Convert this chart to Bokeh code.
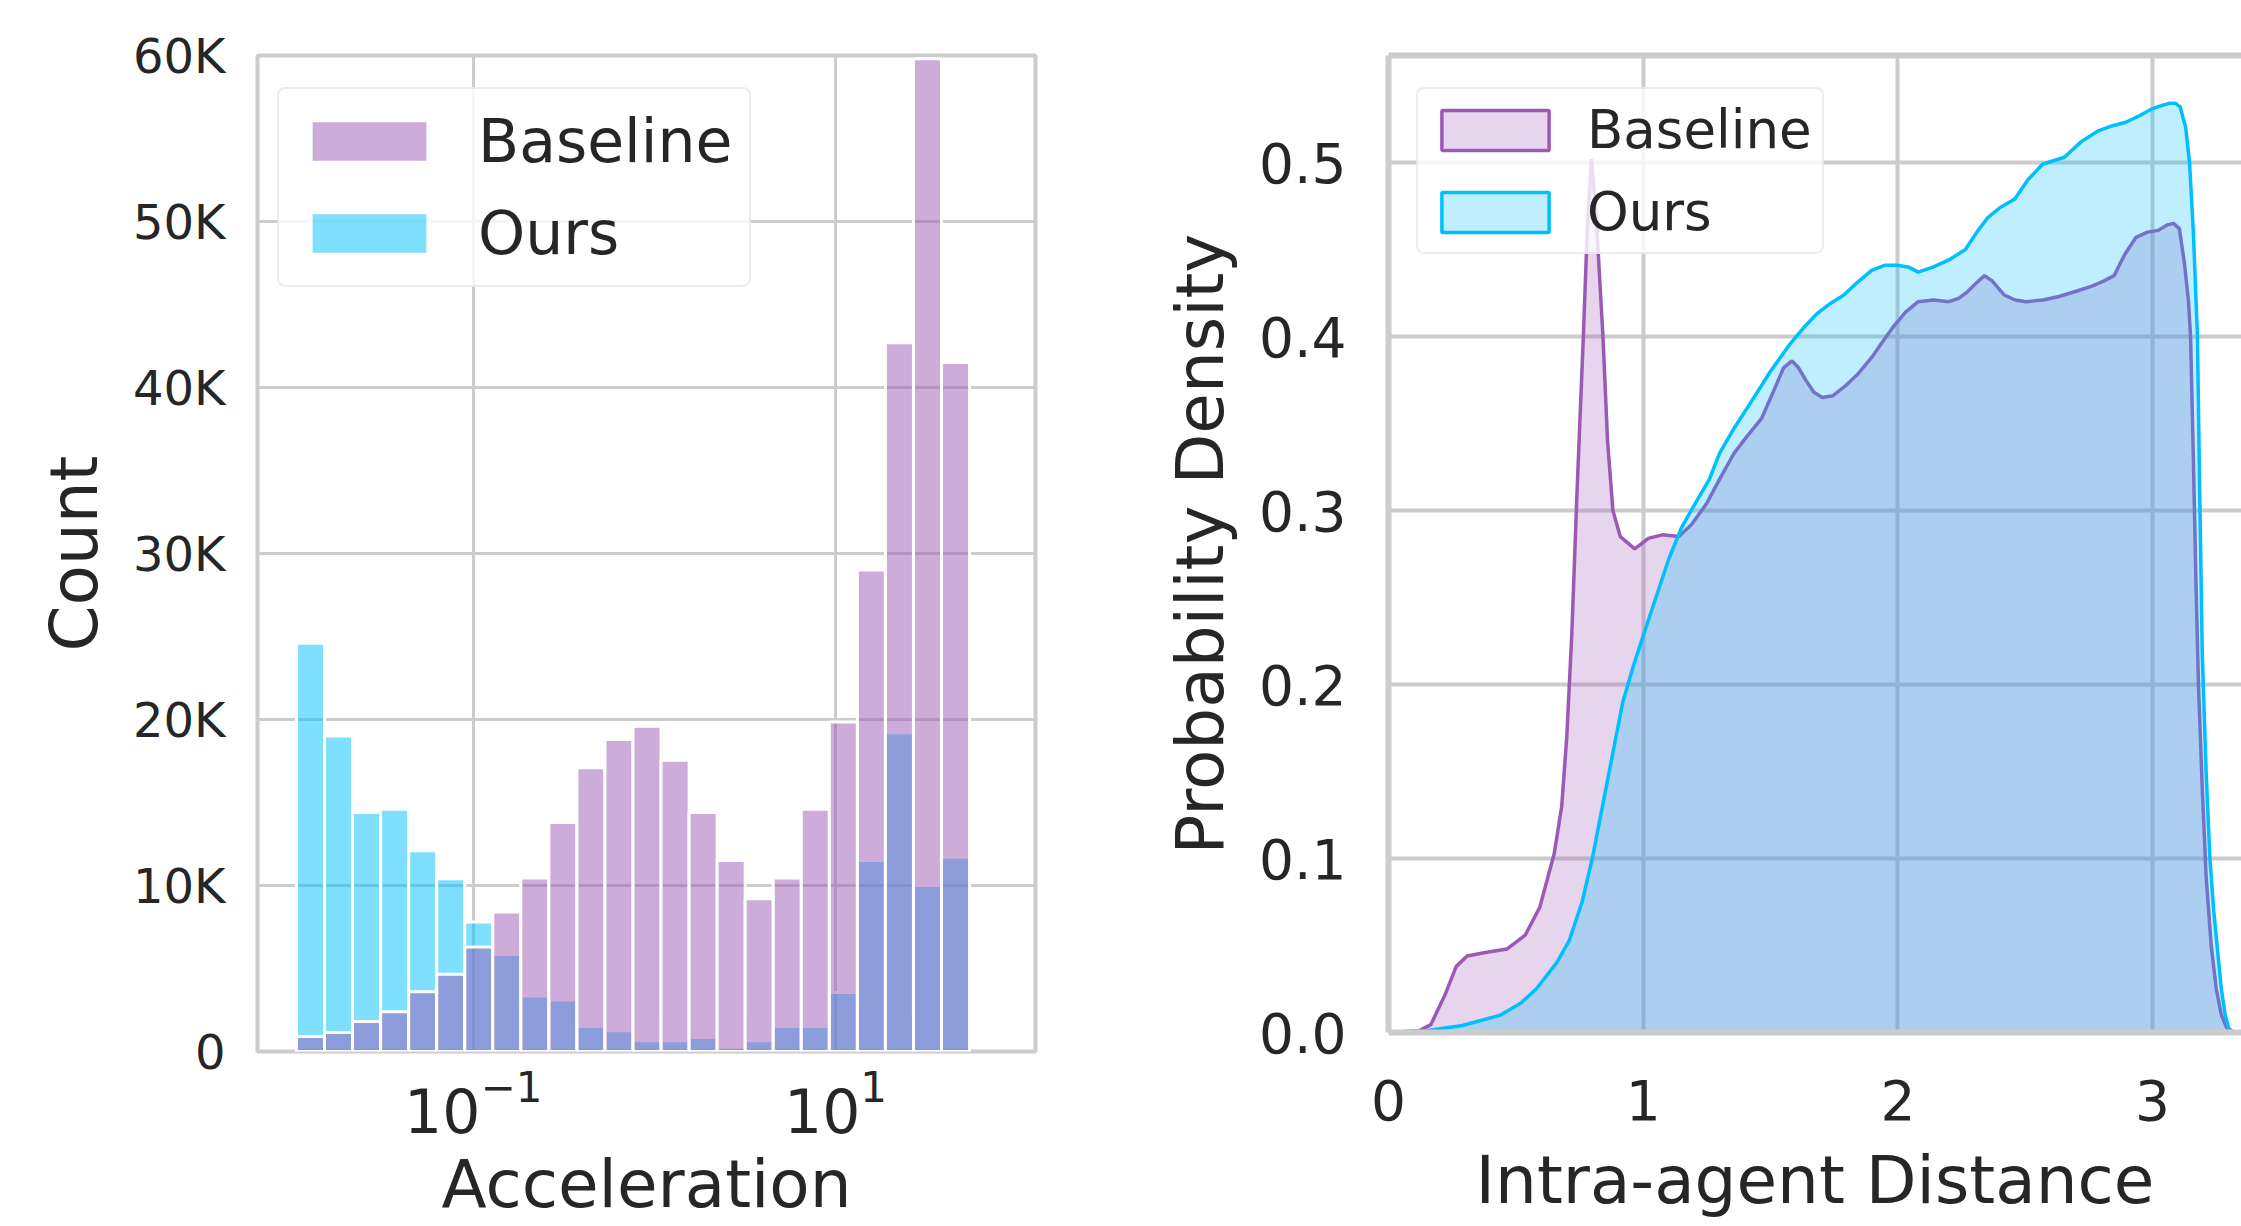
import numpy as np
from bokeh.plotting import figure
from bokeh.layouts import row
from bokeh.models import (Range1d, FixedTicker, LinearAxis, Legend, LegendItem,
                          PrintfTickFormatter)
from bokeh.embed import file_html
from bokeh.resources import INLINE

# ---------------- data: histogram of acceleration (log bins) ----------------
N_BINS = 24
LOG_BIN_START = -1.976
LOG_BIN_END = 1.740
ours_counts = [24600, 19000, 14400, 14600, 12100, 10400, 7800, 5850, 3350, 3100,
               1500, 1250, 650, 650, 850, 250, 650, 1500, 1500, 3550,
               11500, 19200, 10000, 11700]
baseline_counts = [900, 1150, 1800, 2400, 3600, 4650, 6300, 8400, 10450, 13800,
                   17100, 18800, 19600, 17550, 14400, 11500, 9200, 10450, 14600, 19850,
                   29000, 42700, 59800, 41500]
hist_xticks = [0.1, 10]
hist_yticks = [0, 10000, 20000, 30000, 40000, 50000, 60000]
hist_ylabels = ["0", "10K", "20K", "30K", "40K", "50K", "60K"]

# ---------------- data: KDE of intra-agent distance ----------------
base_x = [0.0, 0.12, 0.166, 0.223, 0.266, 0.309, 0.38, 0.466, 0.537, 0.594, 0.651, 0.68,
          0.70, 0.72, 0.74, 0.765, 0.78, 0.797, 0.815, 0.842, 0.86, 0.881, 0.91, 0.967,
          1.02, 1.075, 1.14, 1.19, 1.249, 1.30, 1.357, 1.41, 1.465, 1.51, 1.551, 1.584,
          1.61, 1.638, 1.67, 1.703, 1.745, 1.789, 1.84, 1.897, 1.94, 1.984, 2.03, 2.08,
          2.14, 2.2, 2.24, 2.275, 2.31, 2.34, 2.37, 2.416, 2.46, 2.503, 2.57, 2.632,
          2.70, 2.762, 2.81, 2.849, 2.89, 2.935, 2.98, 3.022, 3.055, 3.082, 3.105, 3.125,
          3.141, 3.149, 3.16, 3.17, 3.18, 3.195, 3.21, 3.23, 3.25, 3.27, 3.29, 3.318]
base_y = [0.0, 0.001, 0.0045, 0.022, 0.038, 0.044, 0.046, 0.048, 0.056, 0.072, 0.103, 0.13,
          0.17, 0.23, 0.31, 0.40, 0.46, 0.502, 0.47, 0.40, 0.34, 0.30, 0.285, 0.278,
          0.284, 0.286, 0.285, 0.292, 0.304, 0.318, 0.333, 0.343, 0.353, 0.368, 0.382, 0.386,
          0.382, 0.375, 0.368, 0.365, 0.366, 0.371, 0.378, 0.388, 0.397, 0.406, 0.414, 0.420,
          0.421, 0.420, 0.422, 0.426, 0.431, 0.435, 0.432, 0.424, 0.421, 0.420, 0.421, 0.423,
          0.426, 0.429, 0.432, 0.435, 0.447, 0.457, 0.460, 0.461, 0.464, 0.465, 0.462, 0.442,
          0.42, 0.40, 0.33, 0.26, 0.20, 0.14, 0.09, 0.05, 0.025, 0.010, 0.003, 0.0]
ours_x = [0.0, 0.15, 0.29, 0.44, 0.52, 0.58, 0.66, 0.71, 0.76, 0.80, 0.84, 0.88, 0.92,
          0.96, 1.0, 1.05, 1.10, 1.15, 1.20, 1.26, 1.30, 1.36, 1.422, 1.50, 1.573, 1.63,
          1.681, 1.735, 1.789, 1.84, 1.897, 1.95, 1.995, 2.04, 2.08, 2.14, 2.2, 2.265,
          2.31, 2.351, 2.40, 2.459, 2.51, 2.568, 2.61, 2.654, 2.72, 2.784, 2.84, 2.892,
          2.95, 3.0, 3.04, 3.065, 3.09, 3.108, 3.13, 3.145, 3.16, 3.176, 3.185, 3.195,
          3.21, 3.225, 3.24, 3.255, 3.27, 3.285, 3.30, 3.318]
ours_y = [0.0, 0.001, 0.004, 0.010, 0.017, 0.025, 0.040, 0.053, 0.075, 0.100, 0.130, 0.160,
          0.190, 0.210, 0.228, 0.250, 0.272, 0.290, 0.303, 0.318, 0.333, 0.348, 0.362, 0.380,
          0.395, 0.405, 0.413, 0.419, 0.424, 0.431, 0.438, 0.441, 0.441, 0.440, 0.437, 0.440,
          0.444, 0.450, 0.460, 0.468, 0.474, 0.479, 0.490, 0.499, 0.501, 0.503, 0.512, 0.518,
          0.521, 0.523, 0.527, 0.531, 0.533, 0.534, 0.534, 0.532, 0.520, 0.500, 0.460, 0.400,
          0.310, 0.218, 0.150, 0.100, 0.070, 0.047, 0.025, 0.010, 0.002, 0.0]
kde_xticks = [0, 1, 2, 3]
kde_yticks = [0.0, 0.1, 0.2, 0.3, 0.4, 0.5]

# ---------------- styles ----------------
TEXT = "#262626"
GRID = "#cccccc"
PURPLE = "#9b59b6"
BLUE = "#00bfff"
FONT = "DejaVu Sans"


def style_axes(p, tick_size_x, tick_size_y):
    for ax in p.axis:
        ax.major_tick_line_color = None
        ax.minor_tick_line_color = None
        ax.major_tick_out = 0
        ax.major_tick_in = 0
        ax.minor_tick_out = 0
        ax.minor_tick_in = 0
        ax.major_label_text_color = TEXT
        ax.major_label_text_font = FONT
        ax.axis_label_text_color = TEXT
        ax.axis_label_text_font = FONT
        ax.axis_label_text_font_style = "normal"
        ax.axis_label_text_font_size = "66px"
    p.xaxis.major_label_text_font_size = tick_size_x
    p.yaxis.major_label_text_font_size = tick_size_y


def style_legend(leg):
    leg.label_text_color = TEXT
    leg.label_text_font = FONT
    leg.border_line_color = "#d9d9d9"
    leg.border_line_width = 2
    leg.background_fill_color = "white"
    leg.background_fill_alpha = 0.8
    leg.margin = 0
    if "border_radius" in Legend.properties():
        leg.border_radius = 8


def no_frame_align(p):
    if "frame_align" in p.properties():
        p.frame_align = False


# ---------------- left: histogram ----------------
edges = 10 ** np.linspace(LOG_BIN_START, LOG_BIN_END, N_BINS + 1)
p1 = figure(width=1140, height=1226, x_axis_type="log",
            x_range=Range1d(10 ** -2.191, 10 ** 2.104), y_range=Range1d(0, 60000),
            output_backend="svg", toolbar_location=None,
            min_border_left=257, min_border_right=105, min_border_top=55,
            min_border_bottom=175)
no_frame_align(p1)
p1.background_fill_color = "white"
p1.border_fill_color = "white"
p1.outline_line_color = GRID
p1.outline_line_width = 4
p1.grid.grid_line_color = GRID
p1.grid.grid_line_width = 3

r_ours = p1.quad(left=edges[:-1], right=edges[1:], bottom=0, top=ours_counts,
                 fill_color=BLUE, fill_alpha=0.5, line_color="white", line_width=3)
r_base = p1.quad(left=edges[:-1], right=edges[1:], bottom=0, top=baseline_counts,
                 fill_color=PURPLE, fill_alpha=0.5, line_color="white", line_width=3)

p1.xaxis.ticker = FixedTicker(ticks=hist_xticks)
p1.yaxis.ticker = FixedTicker(ticks=hist_yticks)
p1.yaxis.major_label_overrides = {t: l for t, l in zip(hist_yticks, hist_ylabels)}
p1.xaxis.axis_label = "Acceleration"
p1.yaxis.axis_label = "Count"
style_axes(p1, "60px", "48px")
p1.axis.axis_line_color = None
p1.below[0].major_label_standoff = 16
p1.left[0].major_label_standoff = 32
p1.below[0].axis_label_standoff = 10
p1.left[0].axis_label_standoff = 17

leg1 = Legend(items=[LegendItem(label="Baseline", renderers=[r_base]),
                     LegendItem(label="Ours", renderers=[r_ours])],
              location=(20, 764))
leg1.label_text_font_size = "60px"
leg1.glyph_width = 146
leg1.glyph_height = 52
leg1.label_standoff = 36
leg1.padding = 17
leg1.spacing = 22
style_legend(leg1)
p1.add_layout(leg1)

# ---------------- right: KDE ----------------
p2 = figure(width=1101, height=1226, x_range=Range1d(0, 3.349), y_range=Range1d(0, 0.5615),
            output_backend="svg", toolbar_location=None,
            min_border_left=248, min_border_right=0, min_border_top=55,
            min_border_bottom=194)
no_frame_align(p2)
p2.background_fill_color = "white"
p2.border_fill_color = "white"
p2.outline_line_color = None
p2.grid.grid_line_color = GRID
p2.grid.grid_line_width = 4

r_b = p2.patch(x=base_x, y=base_y, fill_color=PURPLE, fill_alpha=0.25,
               line_color=PURPLE, line_width=3.5)
r_o = p2.patch(x=ours_x, y=ours_y, fill_color=BLUE, fill_alpha=0.25,
               line_color=BLUE, line_width=3.5)

bottom_axis = p2.below[0]
left_axis = p2.left[0]
bottom_axis.ticker = FixedTicker(ticks=kde_xticks)
left_axis.ticker = FixedTicker(ticks=kde_yticks)
left_axis.formatter = PrintfTickFormatter(format="%.1f")
bottom_axis.axis_label = "Intra-agent Distance"
left_axis.axis_label = "Probability Density"
top_axis = LinearAxis(ticker=FixedTicker(ticks=[]))
p2.add_layout(top_axis, "above")
style_axes(p2, "55px", "55px")
for ax in p2.axis:
    ax.axis_line_color = GRID
    ax.axis_line_width = 6
bottom_axis.major_label_standoff = 47
left_axis.major_label_standoff = 42
bottom_axis.axis_label_standoff = 19
left_axis.axis_label_standoff = 17

leg2 = Legend(items=[LegendItem(label="Baseline", renderers=[r_b]),
                     LegendItem(label="Ours", renderers=[r_o])],
              location=(28, 778))
leg2.label_text_font_size = "53px"
leg2.glyph_width = 134
leg2.glyph_height = 50
leg2.label_standoff = 25
leg2.padding = 10
leg2.spacing = 21
style_legend(leg2)
p2.add_layout(leg2)

layout = row(p1, p2)
open("out.html", "w").write(file_html(layout, INLINE))
